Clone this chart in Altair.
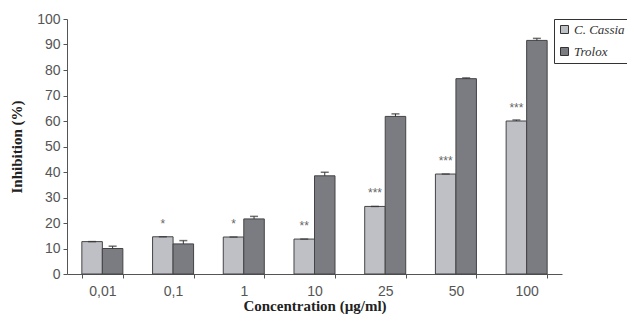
import altair as alt
import pandas as pd

concentrations = ["0,01", "0,1", "1", "10", "25", "50", "100"]
cassia = [12.7, 14.6, 14.5, 13.7, 26.5, 39.2, 60.0]
trolox = [10.0, 11.8, 21.6, 38.5, 61.8, 76.6, 91.6]
cassia_err = [0.0, 0.0, 0.0, 0.0, 0.0, 0.0, 0.4]
trolox_err = [0.9, 1.3, 1.0, 1.4, 1.0, 0.3, 0.8]
stars = ["", "*", "*", "**", "***", "***", "***"]
series = ["C. Cassia", "Trolox"]

rows = []
for i, c in enumerate(concentrations):
    rows.append({"conc": c, "series": series[0], "value": cassia[i],
                 "top": cassia[i] + cassia_err[i], "star": stars[i]})
    rows.append({"conc": c, "series": series[1], "value": trolox[i],
                 "top": trolox[i] + trolox_err[i], "star": ""})
df = pd.DataFrame(rows)

x = alt.X("conc:N", sort=concentrations,
          scale=alt.Scale(paddingInner=0.42, paddingOuter=0.21),
          axis=alt.Axis(title="Concentration (\u00b5g/ml)", labelAngle=0, tickBand="extent",
                        labelPadding=6, titlePadding=0))
xo = alt.XOffset("series:N", sort=series, scale=alt.Scale(paddingInner=0, paddingOuter=0))
yaxis = alt.Axis(title="Inhibition (%)", values=list(range(0, 101, 10)), grid=False,
                 labelOverlap=False, titlePadding=12, labelPadding=3)
y = alt.Y("value:Q", scale=alt.Scale(domain=[0, 100]), axis=yaxis)
ytop = alt.Y("top:Q", scale=alt.Scale(domain=[0, 100]), axis=yaxis)
color = alt.Color("series:N", sort=series,
                  scale=alt.Scale(domain=series, range=["#BEC0C6", "#7A7C82"]),
                  legend=alt.Legend(title=None, orient="none", legendX=487, legendY=0))

base = alt.Chart(df)
bars = base.mark_bar(stroke="#444444", strokeWidth=1).encode(x=x, xOffset=xo, y=y, color=color)
err = base.mark_rule(color="#333333", strokeWidth=1).encode(
    x=x, xOffset=xo, y=y, y2="top:Q")
caps = base.mark_tick(color="#333333", thickness=1.5, size=8).encode(
    x=x, xOffset=xo, y=ytop)
text = base.mark_text(color="#666666", fontSize=12, font="Liberation Sans", dy=-9,
                      baseline="alphabetic").encode(
    x=x, xOffset=xo, y=y, text="star:N")

chart = alt.layer(bars, err, caps, text).properties(
    width=495, height=255,
    autosize=alt.AutoSizeParams(type="none"),
    padding={"left": 59, "top": 11, "right": 65, "bottom": 40},
).configure_view(stroke=None).configure_axis(
    domainColor="#555555", tickColor="#555555", labelColor="#555555",
    labelFont="Liberation Sans", labelFontSize=14, tickSize=4,
    titleFont="Liberation Serif", titleFontWeight="bold", titleFontSize=15, titleColor="#222222",
).configure_legend(
    strokeColor="#333333", padding=4, labelFont="Liberation Serif", labelFontStyle="italic",
    labelFontSize=13, labelColor="#333333", symbolType="square", symbolSize=64,
    symbolStrokeColor="#333333", symbolStrokeWidth=1, rowPadding=8, labelOffset=3,
    fillColor="white",
)

chart.save("out.html", embed_options={"renderer": "svg", "actions": False})
